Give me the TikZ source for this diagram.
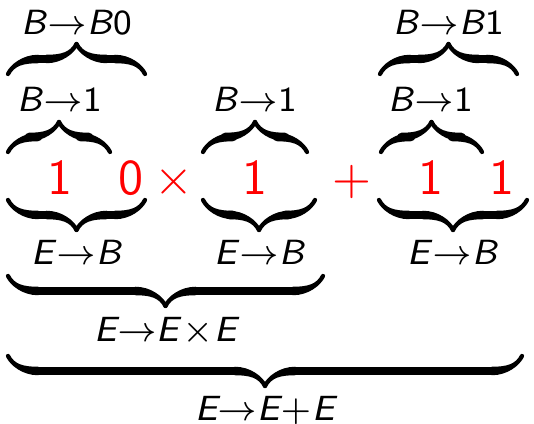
\documentclass[tikz,border=0pt]{standalone}
\usetikzlibrary{decorations.pathreplacing,calligraphy}
\newcommand\V[1]{\textsf{\itshape #1}}
\tikzset{
  lbl/.style={anchor=base, inner sep=0pt, font=\fontsize{7}{8}\selectfont\sffamily},
  reddigit/.style={anchor=base, inner sep=0pt, text=red, font=\fontsize{10}{12}\selectfont\sffamily},
  bracepen/.style={decorate, decoration={calligraphic brace, amplitude=6pt}, line width=1.7pt, pen colour=black},
}
\begin{document}
\begin{tikzpicture}[x=0.2pt,y=-0.2pt]
\useasboundingbox (0,0) rectangle (534,424);
% red row
\node[reddigit] (d1) at (60,195) {1};
\node[reddigit] (d2) at (131,195) {0};
\node[reddigit] (tm) at (174,195) {$\times$};
\node[reddigit] (d3) at (255,195) {1};
\node[reddigit] (pl) at (352,195) {$+$};
\node[reddigit] (d4) at (431,195) {1};
\node[reddigit] (d5) at (502,195) {1};
% labels
\node[lbl] (bb0) at (77,35) {\V{B}$\rightarrow$\V{B}0};
\node[lbl] (bb1) at (449,35) {\V{B}$\rightarrow$\V{B}1};
\node[lbl] (b1a) at (60,112) {\V{B}$\rightarrow$1};
\node[lbl] (b1b) at (255,112) {\V{B}$\rightarrow$1};
\node[lbl] (b1c) at (431,112) {\V{B}$\rightarrow$1};
\node[lbl] (eba) at (77,265) {\V{E}$\rightarrow$\V{B}};
\node[lbl] (ebb) at (260,265) {\V{E}$\rightarrow$\V{B}};
\node[lbl] (ebc) at (453,265) {\V{E}$\rightarrow$\V{B}};
\node[lbl] (exe) at (166,342) {$\V{E}{\rightarrow}\V{E}\mkern1.5mu{\times}\mkern0.5mu\V{E}$};
\node[lbl] (epe) at (265,421) {$\V{E}{\rightarrow}\V{E}\mkern0.5mu{+}\mkern0.5mu\V{E}$};
% brace end points
\coordinate (o1l) at (8,74);   \coordinate (o1r) at (145,74);
\coordinate (o2l) at (380,74); \coordinate (o2r) at (517,74);
\coordinate (o3l) at (8,152);  \coordinate (o3r) at (110,152);
\coordinate (o4l) at (203,152);\coordinate (o4r) at (307,152);
\coordinate (o5l) at (381,152);\coordinate (o5r) at (482,152);
\coordinate (u1l) at (8,200);  \coordinate (u1r) at (145,200);
\coordinate (u2l) at (203,200);\coordinate (u2r) at (315,200);
\coordinate (u3l) at (379,200);\coordinate (u3r) at (527,200);
\coordinate (u4l) at (8,276);  \coordinate (u4r) at (323,276);
\coordinate (u5l) at (8,356);  \coordinate (u5r) at (522,356);
% over braces
\draw[bracepen] (o1l) -- (o1r);
\draw[bracepen] (o2l) -- (o2r);
\draw[bracepen] (o3l) -- (o3r);
\draw[bracepen] (o4l) -- (o4r);
\draw[bracepen] (o5l) -- (o5r);
% under braces
\draw[bracepen] (u1r) -- (u1l);
\draw[bracepen] (u2r) -- (u2l);
\draw[bracepen] (u3r) -- (u3l);
\draw[bracepen] (u4r) -- (u4l);
\draw[bracepen] (u5r) -- (u5l);
\end{tikzpicture}
\end{document}
